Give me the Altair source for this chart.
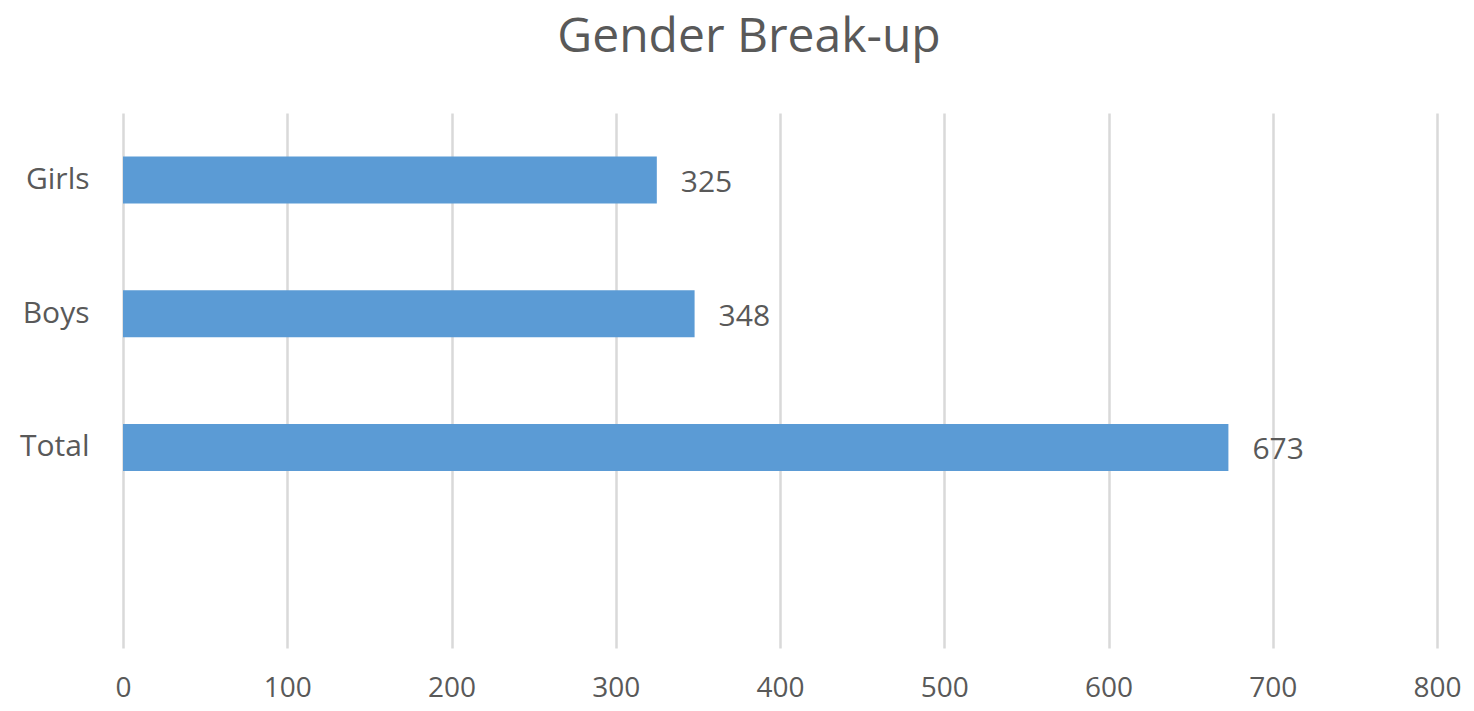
import altair as alt
import pandas as pd

categories = ["Girls", "Boys", "Total"]
values = [325, 348, 673]
domain = ["Girls", "Boys", "Total", " "]

df = pd.DataFrame({"category": categories, "value": values})

FONT = "Open Sans"
TXT = "#595959"

y = alt.Y("category:N", scale=alt.Scale(domain=domain, paddingInner=0, paddingOuter=0),
          axis=alt.Axis(title=None, domain=False, ticks=False, labelPadding=34,
                        labelFontSize=30, labelFont=FONT, labelColor=TXT, grid=False))
x = alt.X("value:Q", scale=alt.Scale(domain=[0, 800], nice=False),
          axis=alt.Axis(title=None, values=[0, 100, 200, 300, 400, 500, 600, 700, 800],
                        domain=False, ticks=False, labelPadding=26, labelFontSize=28,
                        labelFlush=False, labelFont=FONT, labelColor=TXT, grid=True,
                        gridColor="#d9d9d9", gridWidth=2.5))

bars = alt.Chart(df).mark_bar(color="#5b9bd5", size=47).encode(x=x, y=y)
labels = alt.Chart(df).mark_text(align="left", baseline="middle", dx=24, dy=3,
                                 font=FONT, fontSize=30, color=TXT).encode(
    x="value:Q", y=alt.Y("category:N", scale=alt.Scale(domain=domain)), text="value:Q")

chart = alt.layer(bars, labels).properties(
    width=1314, height=535,
    autosize=alt.AutoSizeParams(type="none"),
    padding={"left": 115, "top": 105, "right": 28, "bottom": 55},
    title=alt.TitleParams("Gender Break-up", font=FONT, fontSize=48, fontWeight="normal",
                          color=TXT, anchor="middle", dx=-31, offset=51),
).configure_view(stroke=None)

chart.save("out.html", embed_options={"renderer": "svg", "actions": False})
